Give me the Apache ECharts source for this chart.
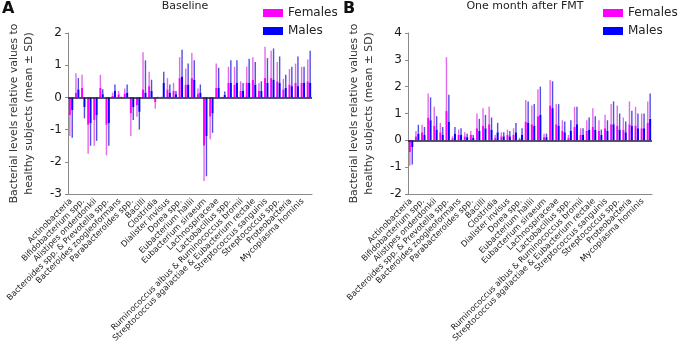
<!DOCTYPE html>
<html>
<head>
<meta charset="utf-8">
<script src="https://cdn.jsdelivr.net/npm/echarts@6/dist/echarts.min.js"></script>
<style>
  html, body { margin: 0; padding: 0; background: #fff; }
  #main { width: 679px; height: 353px; }
</style>
</head>
<body>
<div id="main"></div>
<script>
// shown tick labels (every other category carries a label)
var shownNames = ['Actinobacteria', 'Bifidobacterium spp.', 'Alistipes onderdonkii',
    'Bacteroides spp. & Prevotella spp.', 'Bacteroides zoogleoformans', 'Parabacteroides spp.',
    'Bacilli', 'Clostridia', 'Dialister invisus', 'Dorea spp.', 'Eubacterium hallii',
    'Eubacterium siraeum', 'Lachnospiraceae', 'Lactobacillus spp.',
    'Ruminococcus albus & Ruminococcus bromii', 'Streptococcus agalactiae & Eubacterium rectale',
    'Streptococcus sanguinis', 'Streptococcus spp.', 'Proteobacteria', 'Mycoplasma hominis'];

// baseline, mean and SD
var baseFemMean = [-0.55, 0.15, 0.3, -0.85, -0.7, 0.3, -0.85, 0.05, 0.1, 0.12,
    -0.5, -0.25, 0.25, 0.35, -0.15, 0.01, 0.25, 0.2, 0.6, 0.4,
    0.6, 0.12, -1.5, -0.6, 0.3, 0.01, 0.45, 0.4, 0.2, 0.45,
    0.55, 0.2, 0.6, 0.6, 0.5, 0.25, 0.4, 0.45, 0.45, 0.5];
var baseFemSd = [0.65, 0.6, 0.4, 0.9, 0.8, 0.4, 0.95, 0.1, 0.1, 0.16,
    0.7, 0.35, 1.15, 0.45, 0.2, 0.01, 0.35, 0.25, 0.65, 0.5,
    0.78, 0.16, 1.1, 0.7, 0.75, 0.01, 0.5, 0.55, 0.3, 0.5,
    0.7, 0.25, 0.97, 0.85, 0.6, 0.33, 0.48, 0.6, 0.5, 0.68];
var baseMaleMean = [-0.4, 0.25, -0.3, -0.8, -0.55, 0.1, -0.8, 0.2, 0.01, 0.15,
    -0.3, -0.45, 0.15, 0.2, 0.01, 0.45, 0.15, 0.1, 0.65, 0.4,
    0.55, 0.15, -1.2, -0.5, 0.3, 0.08, 0.45, 0.45, 0.2, 0.45,
    0.4, 0.2, 0.45, 0.55, 0.45, 0.3, 0.35, 0.35, 0.45, 0.45];
var baseMaleSd = [0.85, 0.35, 0.35, 0.7, 0.8, 0.15, 0.7, 0.2, 0.01, 0.25,
    0.4, 0.55, 1.0, 0.35, 0.01, 0.35, 0.25, 0.1, 0.83, 0.65,
    0.6, 0.25, 1.25, 0.6, 0.62, 0.1, 0.7, 0.7, 0.25, 0.75,
    0.7, 0.3, 0.77, 0.97, 0.82, 0.4, 0.6, 0.92, 0.5, 1.0];

// one month after FMT, mean and SD
var fmtFemMean = [-0.45, 0.15, 0.3, 0.85, 0.55, 0.3, 1.1, 0.08, 0.2, 0.15,
    0.2, 0.45, 0.55, 0.6, 0.1, 0.15, 0.2, 0.2, 0.05, 0.7,
    0.6, 0.9, 0.12, 1.3, 0.6, 0.35, 0.1, 0.5, 0.2, 0.35,
    0.5, 0.35, 0.45, 0.6, 0.55, 0.4, 0.6, 0.55, 0.45, 0.65];
var fmtFemSd = [0.5, 0.2, 0.28, 0.9, 0.7, 0.35, 2.0, 0.07, 0.2, 0.15,
    0.15, 0.55, 0.65, 0.65, 0.1, 0.15, 0.2, 0.25, 0.05, 0.8,
    0.7, 1.0, 0.13, 0.95, 0.75, 0.4, 0.1, 0.75, 0.25, 0.4,
    0.7, 0.4, 0.5, 0.75, 0.75, 0.45, 0.85, 0.7, 0.55, 0.8];
var fmtMaleMean = [-0.25, 0.25, 0.2, 0.75, 0.4, 0.2, 0.7, 0.25, 0.2, 0.12,
    0.1, 0.35, 0.45, 0.4, 0.3, 0.15, 0.15, 0.3, 0.2, 0.65,
    0.55, 0.95, 0.12, 1.2, 0.55, 0.3, 0.35, 0.6, 0.2, 0.4,
    0.4, 0.2, 0.35, 0.6, 0.4, 0.3, 0.55, 0.45, 0.45, 0.8];
var fmtMaleSd = [0.65, 0.33, 0.3, 0.85, 0.5, 0.3, 1.0, 0.25, 0.25, 0.13,
    0.1, 0.45, 0.5, 0.45, 0.35, 0.15, 0.2, 0.35, 0.25, 0.8,
    0.8, 1.05, 0.13, 1.0, 0.8, 0.4, 0.4, 0.65, 0.25, 0.45,
    0.5, 0.2, 0.4, 0.85, 0.6, 0.4, 0.55, 0.55, 0.55, 0.95];

// 40 categories, only the labelled ones have a known name
var categories = [];
for (var i = 0; i < shownNames.length; i++) {
    categories.push(shownNames[i]);
    categories.push('');
}

var FEM = '#ff00ff';
var MALE = '#0000ff';

// error bar: line from the mean away from zero by one SD
function errData(mean, sd) {
    var out = [];
    for (var k = 0; k < mean.length; k++) {
        out.push([k, mean[k], mean[k] < 0 ? mean[k] - sd[k] : mean[k] + sd[k]]);
    }
    return out;
}

function errSeries(name, mean, sd, axis, color, shift) {
    return {
        type: 'custom', name: name, xAxisIndex: axis, yAxisIndex: axis,
        data: errData(mean, sd),
        encode: { x: 0, y: [1, 2] },
        silent: true, z: 3,
        renderItem: function (params, api) {
            var a = api.coord([api.value(0), api.value(1)]);
            var b = api.coord([api.value(0), api.value(2)]);
            var x = a[0] + shift;
            return {
                type: 'line',
                shape: { x1: x, y1: a[1], x2: x, y2: b[1] },
                style: { stroke: color, lineWidth: 1.4 }
            };
        }
    };
}

function barSeries(name, data, axis, color, zeroLine) {
    var s = {
        type: 'bar', name: name, xAxisIndex: axis, yAxisIndex: axis,
        data: data, barWidth: 2, barGap: '20%',
        itemStyle: { color: color }, z: 2
    };
    if (zeroLine) {
        s.markLine = {
            silent: true, symbol: 'none', animation: false,
            label: { show: false },
            lineStyle: { color: '#1c1c3a', width: 1.5, type: 'solid' },
            data: [{ yAxis: 0 }]
        };
    }
    return s;
}

function xAx(idx) {
    return {
        type: 'category', gridIndex: idx, data: categories,
        axisLine: { onZero: false, lineStyle: { color: '#8a8a8a' } },
        axisTick: { interval: 1, length: 4, lineStyle: { color: '#8a8a8a' } },
        // every label is placed, the unnamed ones are empty
        axisLabel: { interval: 0, rotate: 45, fontSize: 8.2, color: '#1a1a1a', margin: 6,
                     showMinLabel: true, hideOverlap: false }
    };
}

function yAx(idx, min, max) {
    return {
        type: 'value', gridIndex: idx, min: min, max: max, interval: 1,
        name: 'Bacterial levels relative values to\nhealthy subjects (mean \u00b1 SD)',
        nameLocation: 'middle', nameGap: 31,
        nameTextStyle: { fontSize: 10.8, lineHeight: 15, color: '#333' },
        axisLine: { show: true, lineStyle: { color: '#8a8a8a' } },
        axisTick: { show: true, length: 3, lineStyle: { color: '#8a8a8a' } },
        splitLine: { show: false },
        axisLabel: { fontSize: 12, color: '#1a1a1a', margin: 6 }
    };
}

var myChart = echarts.init(document.getElementById('main'));

myChart.setOption({
    animation: false,
    textStyle: { fontFamily: 'DejaVu Sans' },
    grid: [
        { left: 68, top: 33, width: 244, height: 161, outerBoundsMode: 'none' },
        { left: 408, top: 33, width: 244, height: 161, outerBoundsMode: 'none' }
    ],
    legend: [
        { left: 258, top: 2, orient: 'vertical', itemWidth: 20, itemHeight: 8, itemGap: 6,
          icon: 'rect', data: ['Females', 'Males'], textStyle: { fontSize: 12, color: '#222' } },
        { left: 598, top: 2, orient: 'vertical', itemWidth: 20, itemHeight: 8, itemGap: 6,
          icon: 'rect', data: ['Females', 'Males'], textStyle: { fontSize: 12, color: '#222' } }
    ],
    graphic: [
        { type: 'text', left: 2, top: 1, style: { text: 'A', font: 'bold 16px DejaVu Sans', fill: '#111' } },
        { type: 'text', left: 343, top: 1, style: { text: 'B', font: 'bold 16px DejaVu Sans', fill: '#111' } },
        { type: 'text', x: 185, y: 1, style: { text: 'Baseline', font: '11px DejaVu Sans', fill: '#222', textAlign: 'center' } },
        { type: 'text', x: 525, y: 1, style: { text: 'One month after FMT', font: '11px DejaVu Sans', fill: '#222', textAlign: 'center' } }
    ],
    xAxis: [xAx(0), xAx(1)],
    yAxis: [yAx(0, -3, 2), yAx(1, -2, 4)],
    series: [
        barSeries('Females', baseFemMean, 0, FEM, true),
        barSeries('Males', baseMaleMean, 0, MALE, false),
        errSeries('Females', baseFemMean, baseFemSd, 0, 'rgba(225,90,235,0.9)', -1.2),
        errSeries('Males', baseMaleMean, baseMaleSd, 0, 'rgba(60,60,225,0.9)', 1.2),
        barSeries('Females', fmtFemMean, 1, FEM, true),
        barSeries('Males', fmtMaleMean, 1, MALE, false),
        errSeries('Females', fmtFemMean, fmtFemSd, 1, 'rgba(225,90,235,0.9)', -1.2),
        errSeries('Males', fmtMaleMean, fmtMaleSd, 1, 'rgba(60,60,225,0.9)', 1.2)
    ]
});
</script>
</body>
</html>
